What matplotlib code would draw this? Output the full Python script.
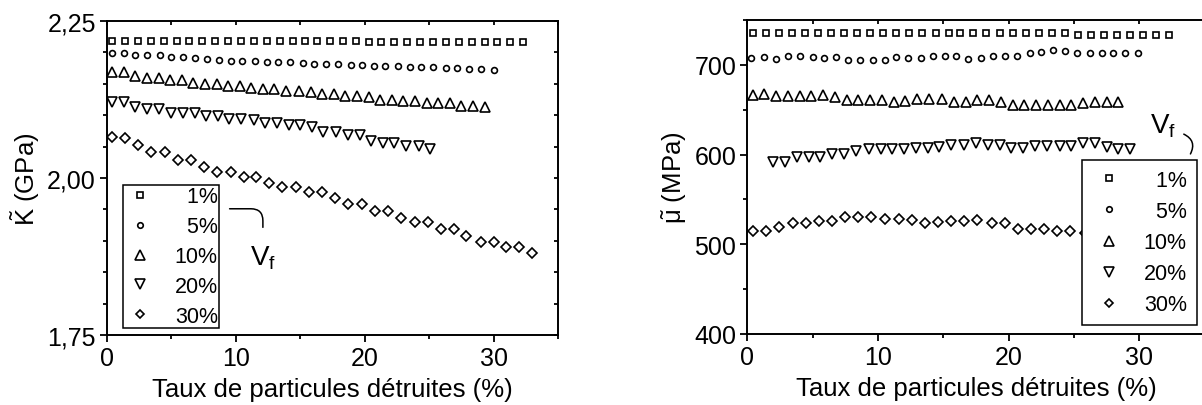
import numpy as np
import matplotlib
matplotlib.use("Agg")
import matplotlib.pyplot as plt
from matplotlib.ticker import MultipleLocator, FuncFormatter

plt.rcParams['font.family'] = ['Liberation Sans', 'DejaVu Sans']
plt.rcParams['mathtext.fontset'] = 'custom'
plt.rcParams['mathtext.rm'] = 'Liberation Sans'
plt.rcParams['mathtext.it'] = 'Liberation Sans:italic'

# Vf labels (figure space pads so the labels line up on the right)
labels = ['\u20071%', '\u20075%', '10%', '20%', '30%']
markers = ['s', 'o', '^', 'v', 'D']
msizes = [4.2, 4.2, 7.0, 7.0, 4.8]

# ---- left panel : K (GPa) ----
K_x1 = [0.4, 1.4, 2.4, 3.4, 4.4, 5.4, 6.4, 7.4, 8.4, 9.4, 10.4, 11.4, 12.4, 13.4, 14.4, 15.4, 16.3,
        17.3, 18.3, 19.3, 20.3, 21.3, 22.3, 23.3, 24.3, 25.3, 26.3, 27.3, 28.3, 29.3, 30.3, 31.3, 32.3]
K_y1 = [2.218, 2.218, 2.218, 2.218, 2.218, 2.218, 2.218, 2.218, 2.218, 2.218, 2.218, 2.218, 2.218,
        2.218, 2.218, 2.218, 2.218, 2.218, 2.218, 2.218, 2.217, 2.216, 2.216, 2.216, 2.216, 2.216,
        2.216, 2.216, 2.216, 2.216, 2.216, 2.216, 2.216]
K_x5 = [0.4, 1.3, 2.2, 3.1, 4.1, 5.0, 5.9, 6.8, 7.8, 8.7, 9.6, 10.5, 11.5, 12.4, 13.3, 14.2, 15.2,
        16.1, 17.0, 17.9, 18.9, 19.8, 20.7, 21.6, 22.6, 23.5, 24.4, 25.3, 26.3, 27.2, 28.1, 29.0, 30.0]
K_y5 = [2.199, 2.199, 2.196, 2.196, 2.196, 2.193, 2.193, 2.191, 2.190, 2.188, 2.187, 2.187, 2.186,
        2.184, 2.184, 2.184, 2.183, 2.182, 2.182, 2.182, 2.180, 2.180, 2.179, 2.178, 2.178, 2.176,
        2.176, 2.176, 2.175, 2.175, 2.174, 2.174, 2.172]
K_x10 = [0.4, 1.3, 2.2, 3.1, 4.0, 4.9, 5.8, 6.7, 7.6, 8.5, 9.4, 10.3, 11.2, 12.1, 13.0, 13.9, 14.9,
         15.8, 16.7, 17.6, 18.5, 19.4, 20.3, 21.2, 22.1, 23.0, 23.9, 24.8, 25.7, 26.6, 27.5, 28.4, 29.3]
K_y10 = [2.169, 2.169, 2.162, 2.159, 2.159, 2.156, 2.156, 2.152, 2.150, 2.150, 2.147, 2.147, 2.143,
         2.141, 2.141, 2.139, 2.139, 2.137, 2.134, 2.134, 2.131, 2.131, 2.129, 2.125, 2.125, 2.122,
         2.122, 2.119, 2.119, 2.119, 2.115, 2.115, 2.113]
K_x20 = [0.4, 1.3, 2.2, 3.1, 4.0, 5.0, 5.9, 6.8, 7.7, 8.6, 9.5, 10.4, 11.4, 12.3, 13.2, 14.1, 15.0,
         15.9, 16.8, 17.8, 18.7, 19.6, 20.5, 21.4, 22.3, 23.2, 24.2, 25.1]
K_y20 = [2.121, 2.121, 2.113, 2.110, 2.110, 2.104, 2.104, 2.104, 2.098, 2.098, 2.094, 2.094, 2.092,
         2.088, 2.088, 2.084, 2.084, 2.081, 2.074, 2.073, 2.069, 2.069, 2.059, 2.055, 2.055, 2.051,
         2.051, 2.046]
K_x30 = [0.4, 1.4, 2.4, 3.4, 4.5, 5.5, 6.5, 7.5, 8.5, 9.6, 10.6, 11.6, 12.6, 13.6, 14.7, 15.7, 16.7,
         17.7, 18.7, 19.8, 20.8, 21.8, 22.8, 23.9, 24.9, 25.9, 26.9, 27.9, 29.0, 30.0, 31.0, 32.0, 33.0]
K_y30 = [2.065, 2.063, 2.053, 2.041, 2.041, 2.029, 2.029, 2.018, 2.009, 2.009, 2.001, 2.001, 1.992,
         1.986, 1.986, 1.977, 1.977, 1.968, 1.959, 1.959, 1.947, 1.947, 1.937, 1.930, 1.930, 1.919,
         1.919, 1.907, 1.898, 1.898, 1.890, 1.890, 1.881]

# ---- right panel : mu (MPa) ----
M_x1 = [0.4, 1.4, 2.4, 3.4, 4.4, 5.4, 6.4, 7.4, 8.4, 9.4, 10.4, 11.4, 12.4, 13.4, 14.4, 15.4, 16.3,
        17.3, 18.3, 19.3, 20.3, 21.3, 22.3, 23.3, 24.3, 25.3, 26.3, 27.3, 28.3, 29.3, 30.3, 31.3, 32.3]
M_y1 = [735, 735, 735, 735, 735, 735, 735, 735, 735, 735, 735, 735, 735, 735, 735, 735, 735,
        735, 735, 735, 735, 735, 735, 735, 735, 733, 733, 733, 733, 733, 733, 733, 733]
M_x5 = [0.3, 1.3, 2.2, 3.1, 4.0, 5.0, 5.9, 6.8, 7.7, 8.6, 9.6, 10.5, 11.4, 12.3, 13.3, 14.2, 15.1,
        16.0, 16.9, 17.9, 18.8, 19.7, 20.6, 21.6, 22.5, 23.4, 24.3, 25.2, 26.2, 27.1, 28.0, 28.9, 29.9]
M_y5 = [707.5, 708.3, 706.4, 709.4, 709.4, 708.3, 707.5, 708.3, 705.6, 704.9, 704.9, 705.6, 708.3,
        707.5, 707.5, 710.1, 709.4, 709.4, 706.7, 707.5, 710.1, 710.1, 710.1, 713.1, 714.2, 716.1,
        715.0, 713.1, 713.1, 713.1, 713.1, 713.1, 713.1]
M_x10 = [0.4, 1.3, 2.2, 3.1, 4.0, 4.9, 5.8, 6.7, 7.6, 8.5, 9.4, 10.3, 11.2, 12.1, 13.0, 13.9, 14.9,
         15.8, 16.7, 17.6, 18.5, 19.4, 20.3, 21.2, 22.1, 23.0, 23.9, 24.8, 25.7, 26.6, 27.5, 28.4]
M_y10 = [666.5, 667.6, 665.8, 665.8, 665.8, 665.8, 666.5, 664.7, 660.9, 660.9, 660.9, 660.9, 659.1,
         660.0, 661.5, 661.5, 662.0, 659.1, 659.1, 660.9, 660.9, 658.3, 655.3, 655.3, 655.3, 655.3,
         655.3, 655.3, 657.2, 658.3, 659.1, 659.1]
M_x20 = [2.0, 2.9, 3.8, 4.7, 5.6, 6.5, 7.4, 8.3, 9.3, 10.2, 11.1, 12.0, 12.9, 13.8, 14.7, 15.6, 16.6,
         17.5, 18.4, 19.3, 20.2, 21.1, 22.0, 22.9, 23.9, 24.8, 25.7, 26.6, 27.5, 28.4, 29.3]
M_y20 = [592.1, 592.1, 597.7, 597.7, 597.7, 600.2, 600.2, 603.9, 605.8, 605.8, 605.8, 605.8, 607.5,
         607.5, 608.0, 610.6, 610.6, 613.0, 610.6, 610.6, 607.5, 607.5, 610.0, 610.0, 610.0, 610.0,
         613.0, 613.0, 608.0, 606.0, 606.0]
M_x30 = [0.4, 1.4, 2.4, 3.5, 4.5, 5.5, 6.5, 7.5, 8.5, 9.5, 10.5, 11.6, 12.6, 13.6, 14.6, 15.6, 16.6,
         17.6, 18.7, 19.7, 20.7, 21.7, 22.7, 23.7, 24.7, 25.8]
M_y30 = [515.3, 515.3, 519.4, 524.2, 524.2, 525.7, 525.7, 530.6, 530.6, 530.6, 528.7, 528.7, 526.8,
         524.2, 525.0, 525.7, 525.7, 526.8, 523.9, 523.9, 517.5, 517.5, 517.5, 515.0, 515.0, 513.1]

K_series = [(K_x1, K_y1), (K_x5, K_y5), (K_x10, K_y10), (K_x20, K_y20), (K_x30, K_y30)]
M_series = [(M_x1, M_y1), (M_x5, M_y5), (M_x10, M_y10), (M_x20, M_y20), (M_x30, M_y30)]

fig = plt.figure(figsize=(12.02, 4.06), dpi=100)
axK = fig.add_axes([0.0890, 0.1724, 0.3752, 0.7734])
axM = fig.add_axes([0.6217, 0.1749, 0.3806, 0.7734])


def style_axes(ax, right=True):
    for s in ax.spines.values():
        s.set_linewidth(1.4)
    ax.tick_params(which='both', direction='out', width=1.3, labelsize=18, pad=3)
    ax.tick_params(which='major', length=5)
    ax.tick_params(which='minor', length=3)
    ax.tick_params(which='both', top=True, right=right)
    ax.xaxis.set_major_locator(MultipleLocator(10))
    ax.xaxis.set_minor_locator(MultipleLocator(5))
    ax.set_xlim(0, 35)
    ax.set_xlabel('Taux de particules détruites (%)', fontsize=18.5, labelpad=5)
    # mirrored ticks on top / right are short and point inward
    for t in ax.xaxis.get_major_ticks() + ax.xaxis.get_minor_ticks():
        t.tick2line.set_marker(matplotlib.lines.TICKDOWN)
        t.tick2line.set_markersize(3)
    for t in ax.yaxis.get_major_ticks() + ax.yaxis.get_minor_ticks():
        t.tick2line.set_marker(matplotlib.lines.TICKLEFT)
        t.tick2line.set_markersize(3)


def plot_series(ax, series):
    for (x, y), m, ms, lab in zip(series, markers, msizes, labels):
        ax.plot(x, y, linestyle='none', marker=m, markersize=ms, markerfacecolor='white',
                markeredgecolor='black', markeredgewidth=1.2, label=lab)


# left
plot_series(axK, K_series)
axK.set_ylim(1.75, 2.25)
axK.yaxis.set_major_locator(MultipleLocator(0.25))
axK.yaxis.set_minor_locator(MultipleLocator(0.05))
axK.yaxis.set_major_formatter(FuncFormatter(lambda v, p: f"{v:.2f}".replace('.', ',')))
style_axes(axK)
axK.set_ylabel(r'$\tilde{\mathregular{K}}$ (GPa)', fontsize=18.5, labelpad=4)
legK = axK.legend(loc='lower left', bbox_to_anchor=(0.0355, 0.0223), borderaxespad=0,
                  fontsize=15.5, frameon=True, fancybox=False, framealpha=1, edgecolor='black',
                  borderpad=0.06, labelspacing=0.41, handlelength=1.45, handletextpad=0.9,
                  markerscale=0.95)
legK.get_frame().set_linewidth(1.1)
axK.annotate('', xy=(12.1, 1.917), xytext=(9.3, 1.951),
             arrowprops=dict(arrowstyle='-', lw=1.1, color='black',
                             connectionstyle='angle,angleA=0,angleB=90,rad=12'))
axK.text(12.1, 1.874, r'$\mathregular{V_f}$', fontsize=20, ha='center', va='center')

# right
plot_series(axM, M_series)
axM.set_ylim(400, 750)
axM.yaxis.set_major_locator(MultipleLocator(100))
axM.yaxis.set_minor_locator(MultipleLocator(50))
style_axes(axM, right=False)
axM.set_ylabel(r'$\tilde{\mathregular{\mu}}$ (MPa)', fontsize=18.5, labelpad=4)
legM = axM.legend(loc='lower left', bbox_to_anchor=(0.7316, 0.0287), borderaxespad=0,
                  fontsize=15.5, frameon=True, fancybox=False, framealpha=1, edgecolor='black',
                  borderpad=0.45, labelspacing=0.47, handlelength=1.6, handletextpad=0.82,
                  markerscale=0.95)
legM.get_frame().set_linewidth(1.1)
legM.set_zorder(10)
axM.annotate('', xy=(33.8, 598), xytext=(33.2, 624),
             arrowprops=dict(arrowstyle='-', lw=1.1, color='black',
                             connectionstyle='arc3,rad=-0.6'))
axM.text(31.8, 633, r'$\mathregular{V_f}$', fontsize=20, ha='center', va='center')

fig.savefig('out.png', dpi=100)
